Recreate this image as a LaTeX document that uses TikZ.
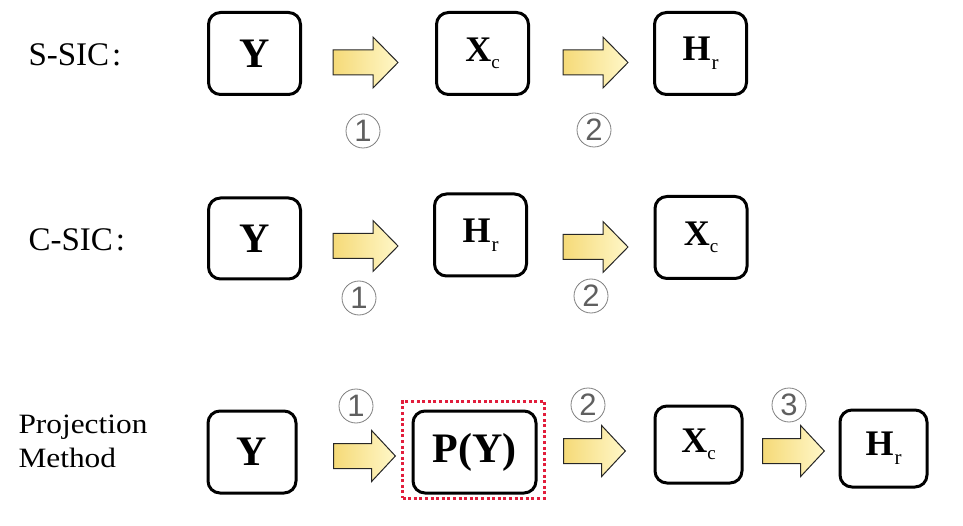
\documentclass[tikz,border=0pt]{standalone}
\usepackage{fontspec}
\setmainfont{Liberation Serif}
\newfontfamily\numfont{Liberation Sans}
\usetikzlibrary{calc}
\definecolor{arrowL}{RGB}{245,218,120}
\definecolor{arrowR}{RGB}{255,247,200}
\definecolor{hlred}{RGB}{226,30,60}
\definecolor{numgray}{RGB}{95,95,95}
\newcommand\symY{{\fontsize{42}{42}\selectfont\bfseries Y}}
\newcommand\symXc{{\fontsize{36}{36}\selectfont\bfseries X}\raisebox{-7pt}{\fontsize{19}{19}\selectfont c}}
\newcommand\symHr{{\fontsize{36}{36}\selectfont\bfseries H}\kern1pt\raisebox{-9pt}{\fontsize{21}{21}\selectfont r}}
\begin{document}
\begin{tikzpicture}[x=1pt,y=-1pt,
  box/.style={draw, line width=3pt, rounded corners=12pt, inner sep=0pt,
              minimum width=92pt, minimum height=82pt},
  numc/.style={circle, draw=numgray!80, line width=0.8pt, minimum size=34pt,
               inner sep=0pt, text=numgray, font=\numfont\fontsize{31}{31}\selectfont},
  lab/.style={anchor=base west, font=\fontsize{33}{33}\selectfont},
  lab2/.style={anchor=base west, font=\fontsize{28}{28}\selectfont},
  arrowfill/.style={draw=black!85, line width=1pt, left color=arrowL, right color=arrowR},
  barrow/.pic={\path[arrowfill] (-32.5,-12.5) -- (7.5,-12.5) -- (7.5,-25.5) -- (32.5,0)
                -- (7.5,25.5) -- (7.5,12.5) -- (-32.5,12.5) -- cycle;}
]
\useasboundingbox (0,0) rectangle (963,526);

% Row 1: S-SIC
\node[lab] (l1) at (25,66) {S-SIC\kern3pt:};
\node[box] (r1y) at (254.5,53.5) {\symY};
\node[box] (r1x) at (482.5,53.5) {\symXc};
\node[box] (r1h) at (700.5,53.5) {\symHr};
\pic at (365.5,62.5) {barrow};
\pic at (595.5,62.5) {barrow};
\node[numc] (n11) at (363,131) {1};
\node[numc] (n12) at (594,130) {2};

% Row 2: C-SIC
\node[lab] (l2) at (25,251) {C-SIC\kern3pt:};
\node[box, minimum height=81pt] (r2y) at (254.5,238.5) {\symY};
\node[box] (r2h) at (480.5,235) {\symHr};
\node[box] (r2x) at (701,237.5) {\symXc};
\pic at (365.5,246) {barrow};
\pic at (595.5,247) {barrow};
\node[numc] (n21) at (359,298) {1};
\node[numc] (n22) at (591,296) {2};

% Row 3: Projection Method
\node[lab2] (l3a) at (15,433) {\scalebox{1.12}[1]{Projection}};
\node[lab2] (l3b) at (15,467) {\scalebox{1.12}[1]{Method}};
\node[box, minimum width=88pt] (r3y) at (252,452) {\symY};
\node[draw=hlred, line width=3pt, dash pattern=on 3pt off 2.6pt,
      minimum width=142pt, minimum height=97pt, inner sep=0pt] (hl) at (473.5,449.5) {};
\node[box, minimum width=123pt] (r3p) at (474.5,452)
  {\fontsize{42}{42}\selectfont\bfseries P(Y)};
\node[box, minimum width=87pt, minimum height=77pt] (r3x) at (698.5,444.5) {\symXc};
\node[box, minimum width=87pt, minimum height=77pt] (r3h) at (883.5,448.5) {\symHr};
\pic[xscale=0.95] at (364.5,456) {barrow};
\pic[xscale=0.95] at (594.5,451) {barrow};
\pic[xscale=0.95] at (793.5,451) {barrow};
\node[numc] (n31) at (356,406) {1};
\node[numc] (n32) at (588,405) {2};
\node[numc] (n33) at (789,405) {3};
\end{tikzpicture}
\end{document}
